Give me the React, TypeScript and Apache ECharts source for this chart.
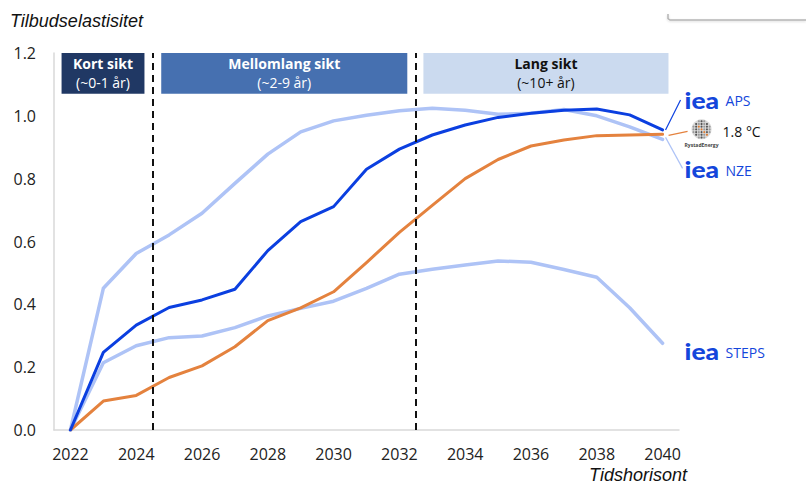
import React, { useEffect, useRef } from "react";
import * as echarts from "echarts";

const years = [2022, 2023, 2024, 2025, 2026, 2027, 2028, 2029, 2030, 2031, 2032, 2033, 2034, 2035, 2036, 2037, 2038, 2039, 2040];
const aps = [0, 0.247, 0.334, 0.39, 0.414, 0.448, 0.571, 0.663, 0.711, 0.83, 0.894, 0.939, 0.971, 0.995, 1.008, 1.018, 1.022, 1.003, 0.955];
const nze = [0, 0.451, 0.562, 0.621, 0.69, 0.785, 0.878, 0.949, 0.984, 1.002, 1.016, 1.024, 1.018, 1.005, 1.008, 1.02, 1.0, 0.965, 0.925];
const rystad = [0, 0.092, 0.11, 0.167, 0.204, 0.265, 0.348, 0.389, 0.44, 0.533, 0.629, 0.715, 0.8, 0.861, 0.904, 0.923, 0.937, 0.939, 0.941];
const steps = [0, 0.214, 0.268, 0.294, 0.299, 0.326, 0.363, 0.387, 0.41, 0.451, 0.496, 0.512, 0.525, 0.538, 0.534, 0.511, 0.486, 0.389, 0.276];
const xTickLabels = [2022, 2024, 2026, 2028, 2030, 2032, 2034, 2036, 2038, 2040];
const phaseDividers = [2024.5, 2032.5];
const phases = [
  { title: "Kort sikt", sub: "(~0-1 år)", from: 2021.73, to: 2024.25, color: "#203864", text: "#ffffff" },
  { title: "Mellomlang sikt", sub: "(~2-9 år)", from: 2024.76, to: 2032.24, color: "#4670B0", text: "#ffffff" },
  { title: "Lang sikt", sub: "(~10+ år)", from: 2032.73, to: 2040.18, color: "#CBDAEF", text: "#111111" },
];
const phaseTop = 1.2;
const phaseBottom = 1.07;

const DARK = "#0B3FE0";
const LIGHT = "#AEC3F6";
const ORANGE = "#E4823E";
const IEA = "#1446DB";
const FONT = "'Open Sans', 'Noto Sans', sans-serif";

const pairs = (vals: number[]) => years.map((y, i) => [y, vals[i]]);

export default function App() {
  const ref = useRef<HTMLDivElement>(null);
  useEffect(() => {
    if (!ref.current) return;
    const chart = echarts.init(ref.current, null, { renderer: "svg" });
    const lineSeries = (name: string, data: number[], color: string, width: number, extra: any = {}) => ({
      name,
      type: "line",
      data: pairs(data),
      symbol: "none",
      lineStyle: { color, width, cap: "round", join: "round" },
      itemStyle: { color },
      z: 2,
      ...extra,
    });
    const option: any = {
      animation: false,
      backgroundColor: "#ffffff",
      grid: { left: 54, right: 127, top: 53, bottom: 58 },
      xAxis: {
        type: "value",
        min: 2021.5,
        max: 2040.5,
        splitLine: { show: false },
        axisTick: { show: false },
        axisLine: { show: true, lineStyle: { color: "#D9D9D9", width: 1.5 } },
        axisLabel: {
          customValues: xTickLabels,
          formatter: (v: number) => String(v),
          color: "#222",
          fontSize: 16,
          fontFamily: FONT,
          margin: 16,
        },
      },
      yAxis: {
        type: "value",
        min: 0,
        max: 1.2,
        interval: 0.2,
        splitLine: { show: false },
        axisTick: { show: false },
        axisLine: { show: true, lineStyle: { color: "#D9D9D9", width: 1.5 } },
        axisLabel: {
          formatter: (v: number) => v.toFixed(1),
          color: "#222",
          fontSize: 16,
          fontFamily: FONT,
          margin: 18,
        },
      },
      series: [
        lineSeries("NZE", nze, LIGHT, 3.5, {
          markArea: {
            silent: true,
            data: phases.map((p) => [
              {
                xAxis: p.from,
                yAxis: phaseTop,
                itemStyle: { color: p.color, opacity: 1 },
                label: {
                  show: true,
                  position: "inside",
                  formatter: `{t|${p.title}}\n{s|${p.sub}}`,
                  rich: {
                    t: { fontFamily: FONT, fontSize: 14, fontWeight: "bold", color: p.text, lineHeight: 19 },
                    s: { fontFamily: FONT, fontSize: 14, color: p.text, lineHeight: 19 },
                  },
                },
              },
              { xAxis: p.to, yAxis: phaseBottom },
            ]),
          },
        }),
        lineSeries("STEPS", steps, LIGHT, 3.5),
        lineSeries("Rystad", rystad, ORANGE, 3, {
          markLine: {
            silent: true,
            symbol: "none",
            label: { show: false },
            lineStyle: { color: "#111", width: 2, type: [7, 5] },
            data: phaseDividers.map((x) => ({ xAxis: x })),
          },
        }),
        lineSeries("APS", aps, DARK, 3),
      ],
    };
    chart.setOption(option);

    const last = years.length - 1;
    const pt = (vals: number[]) => chart.convertToPixel({ gridIndex: 0 }, [years[last], vals[last]]) as number[];
    const pA = pt(aps);
    const pR = pt(rystad);
    const pN = pt(nze);
    const pS = pt(steps);
    const lx = pA[0] + 22;
    const ieaLabel = (y: number, name: string) => [
      {
        type: "text",
        x: lx,
        y,
        scaleX: 1.2,
        style: { text: "iea", font: "900 22px Lato, 'Noto Sans', sans-serif", fill: IEA, verticalAlign: "middle", textAlign: "left" },
      },
      {
        type: "text",
        x: lx + 41,
        y: y + 1,
        style: { text: name, font: `14px ${FONT}`, fill: IEA, verticalAlign: "middle", textAlign: "left" },
      },
    ];
    const rystadDots: any[] = [];
    const cx = lx + 17;
    const cy = pR[1] - 5;
    for (let i = -3; i <= 3; i++) {
      for (let j = -3; j <= 3; j++) {
        const dx = i * 2.7;
        const dy = j * 2.7;
        if (dx * dx + dy * dy > 90) continue;
        const orange = Math.abs(i - j) <= 0 && i > -2 && i < 3;
        rystadDots.push({
          type: "circle",
          shape: { cx: cx + dx, cy: cy + dy, r: 1.05 },
          style: { fill: orange ? "#E07A2E" : i % 2 === 0 ? "#555" : "#9a9a9a" },
        });
      }
    }
    chart.setOption({
      graphic: [
        {
          type: "text",
          left: 10,
          top: 12,
          style: { text: "Tilbudselastisitet", font: "italic 18px 'Liberation Sans', Arial, sans-serif", fill: "#111" },
        },
        {
          type: "text",
          right: 119,
          top: 466,
          style: { text: "Tidshorisont", font: "italic 18px 'Liberation Sans', Arial, sans-serif", fill: "#111" },
        },
        {
          type: "polyline",
          shape: { points: [[668, 14], [668, 18.5], [670, 20], [806, 20]] },
          style: { stroke: "#B5B5B5", lineWidth: 1.5, fill: "none", shadowColor: "rgba(0,0,0,0.15)", shadowBlur: 2, shadowOffsetY: 1 },
        },
        { type: "line", shape: { x1: pA[0] + 3, y1: pA[1], x2: pA[0] + 18, y2: pA[1] - 30 }, style: { stroke: DARK, lineWidth: 1.2 } },
        { type: "line", shape: { x1: pR[0] + 6, y1: pR[1] + 1, x2: pR[0] + 25, y2: pR[1] - 3 }, style: { stroke: ORANGE, lineWidth: 1.2 } },
        { type: "line", shape: { x1: pN[0] + 3, y1: pN[1] - 2, x2: pN[0] + 20, y2: pN[1] + 29 }, style: { stroke: LIGHT, lineWidth: 1.2 } },
        ...ieaLabel(pA[1] - 30, "APS"),
        ...ieaLabel(pN[1] + 30, "NZE"),
        ...ieaLabel(pS[1] + 8, "STEPS"),
        { type: "circle", shape: { cx, cy, r: 10 }, style: { fill: "#d9d9d9" } },
        ...rystadDots,
        {
          type: "text",
          x: cx,
          y: cy + 16,
          style: { text: "RystadEnergy", font: `bold 5px ${FONT}`, fill: "#444", textAlign: "center", verticalAlign: "middle" },
        },
        {
          type: "text",
          x: lx + 38,
          y: pR[1] - 3,
          style: { text: "1.8 °C", font: `14px ${FONT}`, fill: "#111", verticalAlign: "middle", textAlign: "left" },
        },
      ],
    });
    return () => chart.dispose();
  }, []);
  return <div ref={ref} style={{ position: "absolute", left: 0, top: 0, width: 806, height: 488 }} />;
}
